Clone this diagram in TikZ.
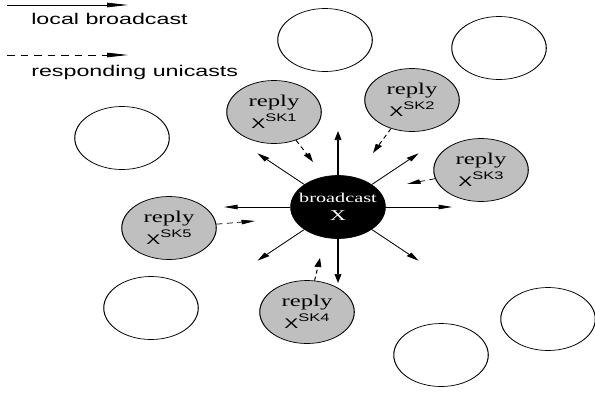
\documentclass[tikz,border=0pt]{standalone}
\usepackage{fontspec}
\setmainfont{Liberation Serif}
\setsansfont{Liberation Sans}
\usetikzlibrary{arrows.meta, calc}

\tikzset{
  peer/.style={circle, draw, line width=0.7pt, minimum size=63pt, inner sep=0pt},
  replynode/.style={peer, fill=black!25, align=center, font=\fontsize{16.5}{22}\selectfont},
  sender/.style={peer, fill=black, text=white, align=center, font=\fontsize{13.5}{18}\selectfont},
  bcast/.style={line width=0.7pt, -{Triangle[length=9pt,width=4.5pt]}},
  ucast/.style={bcast, dash pattern=on 4pt off 3pt},
  legendarrow/.style={line width=0.8pt, -{Triangle[length=14pt,width=4.5pt]}},
  legendtext/.style={font=\sffamily\fontsize{15.5}{18}\selectfont, anchor=base west, inner sep=0pt},
}
\newcommand{\skey}[1]{{\sffamily\fontsize{14}{14}\selectfont X\raisebox{0.5em}{\fontsize{11}{11}\selectfont SK#1}}}

\begin{document}
\begin{tikzpicture}
  \useasboundingbox (0,0) rectangle (595pt,-392pt);
  \begin{scope}[transform canvas={xscale=1.5}, x=0.6667pt, y=-1pt]
    % Legend
    \coordinate (lb0) at (7,5);
    \coordinate (lb1) at (128,5);
    \draw[legendarrow] (lb0) -- (lb1);
    \node[legendtext] (lbtext) at (31,24) {local broadcast};
    \coordinate (lu0) at (7,55);
    \coordinate (lu1) at (128,55);
    \draw[legendarrow, dash pattern=on 5pt off 4pt] (lu0) -- (lu1);
    \node[legendtext] (lutext) at (31,76) {responding unicasts};

    % Idle neighbours
    \node[peer] (idle1) at (325,40) {};
    \node[peer] (idle2) at (499,48) {};
    \node[peer] (idle3) at (122,138) {};
    \node[peer] (idle4) at (151,308) {};
    \node[peer] (idle5) at (441,355) {};
    \node[peer] (idle6) at (548,319) {};

    % Broadcasting node
    \node[sender] (bc) at (338,207) {broadcast\\{\fontsize{15}{18}\selectfont X}};

    % Replying neighbours
    \node[replynode] (sk1) at (274,112) {reply\\\skey{1}};
    \node[replynode] (sk2) at (412,100) {reply\\\skey{2}};
    \node[replynode] (sk3) at (481,170) {reply\\\skey{3}};
    \node[replynode] (sk4) at (307,312) {reply\\\skey{4}};
    \node[replynode] (sk5) at (169,228) {reply\\\skey{5}};

    % Local broadcast
    \foreach \a in {0,45,...,315} {
      \coordinate (t\a) at ($(bc)+(\a:76pt)$);
      \draw[bcast] (bc) -- (t\a);
    }

    % Unicast replies
    \coordinate (u1) at (313,162);
    \coordinate (u2) at (373,153);
    \coordinate (u3) at (407,184);
    \coordinate (u4) at (320,258);
    \coordinate (u5) at (255,221);
    \draw[ucast] (sk1) -- (u1);
    \draw[ucast] (sk2) -- (u2);
    \draw[ucast] (sk3) -- (u3);
    \draw[ucast] (sk4) -- (u4);
    \draw[ucast] (sk5) -- (u5);
  \end{scope}
\end{tikzpicture}
\end{document}
